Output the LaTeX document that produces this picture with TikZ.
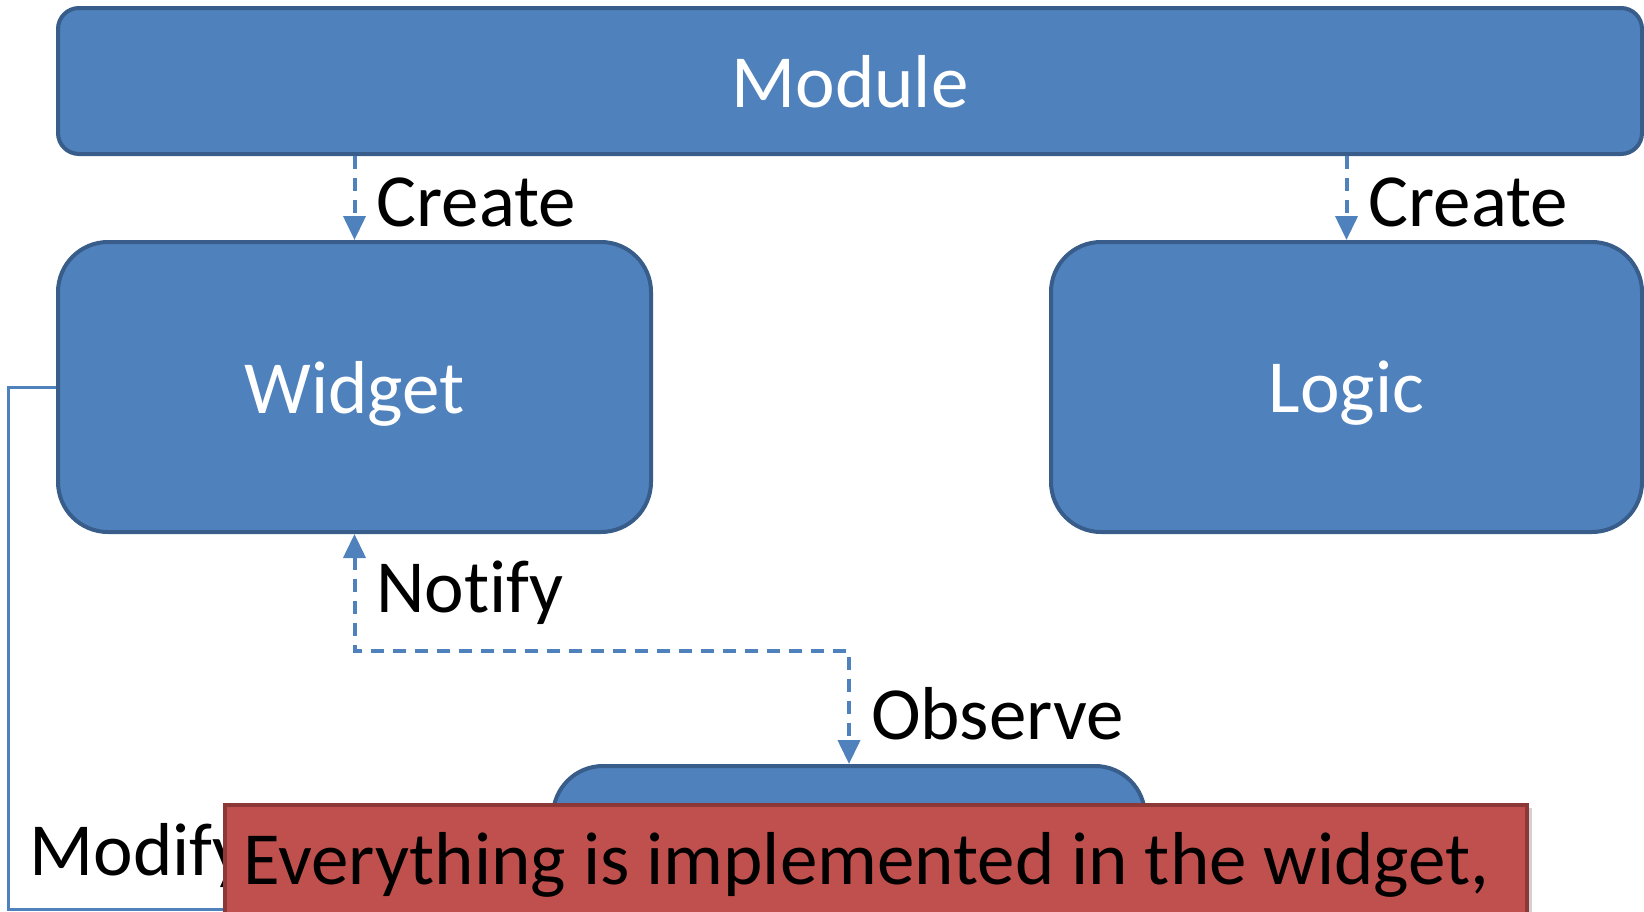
\documentclass[tikz,border=0pt]{standalone}
\usepackage{fontspec}
\setmainfont[Ligatures={NoCommon}]{Carlito}
\usetikzlibrary{arrows.meta,shadows}

\definecolor{boxblue}{RGB}{79,129,189}
\definecolor{boxedge}{RGB}{56,93,138}
\definecolor{notered}{RGB}{192,80,77}
\definecolor{noteedge}{RGB}{140,56,54}

\begin{document}
\begin{tikzpicture}[x=1pt, y=-1pt, font=\fontsize{75}{90}\selectfont,
    >={Triangle[length=24pt, width=22pt]},
    block/.style={draw=boxedge, line width=4pt, fill=boxblue, text=white, text depth=0pt, rectangle},
    flow/.style={draw=boxblue, line width=4pt, dash pattern=on 13pt off 9pt},
    lbl/.style={right, inner sep=20pt, text=black}]
    \useasboundingbox (0,0) rectangle (1644,911);
    \clip (0,0) rectangle (1644,911);

    % Boxes
    \node[block, rounded corners=21pt, minimum width=1584pt, minimum height=146pt] (module) at (850,81) {Module};
    \node[block, rounded corners=50pt, minimum width=593pt, minimum height=290pt] (widget) at (354.5,387) {Widget};
    \node[block, rounded corners=50pt, minimum width=591pt, minimum height=290pt] (logic) at (1346.5,387) {Logic};
    \node[block, rounded corners=50pt, minimum width=592pt, minimum height=286pt] (bot) at (849,909) {};

    % Create
    \draw[flow, ->] (widget.north |- module.south) -- node[lbl, yshift=-4pt] {Create} (widget.north);
    \draw[flow, ->] (logic.north |- module.south) -- node[lbl, yshift=-4pt] {Create} (logic.north);

    % Notify / Observe
    \draw[flow, <->] (widget.south) -- node[lbl] {Notify} ++(0,117)
        -| node[pos=0.75, lbl, yshift=-6pt] {Observe} (bot.north);

    % Modify
    \draw[boxblue, line width=3pt] (widget.west) -- ++(-48,0)
        |- node[pos=0.5, anchor=south west, inner sep=20pt, text=black] {Modify} (bot.west);

    % Note
    \node[draw=noteedge, line width=4pt, fill=notered, rectangle, anchor=north west,
        minimum width=1302pt, minimum height=300pt,
        drop shadow={shadow xshift=5pt, shadow yshift=-3pt, fill=black!35}] (note) at (223,803) {};
    \node[anchor=base west, text=black] (notetext) at (240,884) {Everything is implemented in the widget,};
\end{tikzpicture}
\end{document}
